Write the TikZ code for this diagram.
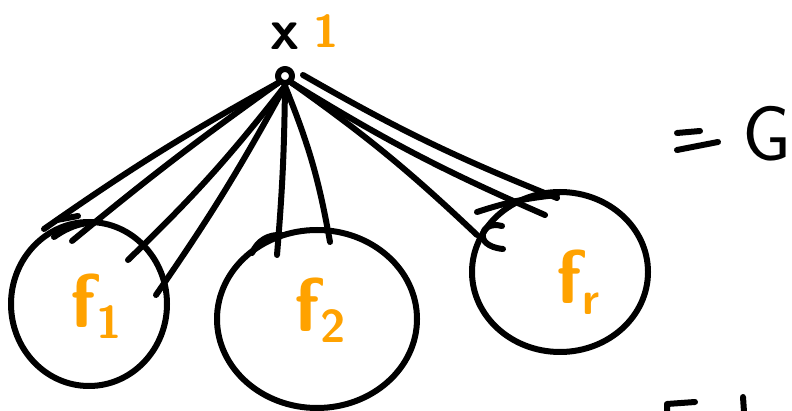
\documentclass[tikz,border=0pt]{standalone}
\usepackage{tikz}
\usetikzlibrary{shapes.geometric, positioning}
\definecolor{hInk}{HTML}{000000}
\definecolor{hOrange}{HTML}{FFA200}
\tikzset{
  pen/.style={draw=hInk, line width=6pt, line cap=round, line join=round},
  blob/.style={pen, ellipse, inner sep=0pt},
  facname/.style={text=hOrange, font=\fontsize{76}{76}\selectfont\sffamily\bfseries},
  inkname/.style={text=hInk, font=\fontsize{58}{58}\selectfont\sffamily\bfseries},
}
\newcommand{\sub}[1]{\raisebox{-0.3ex}{\fontsize{46}{46}\selectfont #1}}
\begin{document}
\begin{tikzpicture}[x=1pt, y=-1pt]
  \useasboundingbox (0,0) rectangle (792,411);
  % the vertex and its label
  \node[pen, circle, minimum size=14pt, inner sep=0pt] (v) at (285,76) {};
  \node[inkname] (x) at (285,36) {x};
  \node[inkname, text=hOrange, font=\fontsize{46}{46}\selectfont\sffamily\bfseries] (one) at (326,31) {1};
  % the three factors
  \node[blob, minimum width=156pt, minimum height=164pt] (f1) at (89,304) {};
  \node[blob, minimum width=200pt, minimum height=178pt] (f2) at (317,319) {};
  \node[blob, minimum width=176pt, minimum height=160pt] (fr) at (560,272) {};
  \node[facname] at (96,306) {f\sub{1}};
  \node[facname] at (320,310) {f\sub{2}};
  \node[facname] at (578,282) {f\sub{r}};
  % ends of the strands
  \coordinate (a1) at (44,229);
  \coordinate (a2) at (72,241);
  \coordinate (a3) at (128,260);
  \coordinate (a4) at (156,295);
  \coordinate (b1) at (277,255);
  \coordinate (b2) at (330,242);
  \coordinate (c1) at (477,235);
  \coordinate (c2) at (545,215);
  \coordinate (c3) at (557,198);
  \coordinate (w) at (303,75);
  % strands from the vertex
  \draw[pen] (v.south west) to[bend right=3] (a1);
  \draw[pen] (v.south west) to[bend right=2] (a2);
  \draw[pen] (v.south) to[bend left=4] (a3);
  \draw[pen] (v.south) to[bend left=3] (a4);
  \draw[pen] (v.south) to[bend left=2] (b1);
  \draw[pen] (v.south) to[bend left=6] (b2);
  \draw[pen] (v.south east) to[bend left=4] (c1);
  \draw[pen] (v.south east) to[bend right=4] (c2);
  \draw[pen] (w) to[bend right=4] (c3);
  % little hooks where the strands meet the factors
  \draw[pen] (57,220) -- (78,216);
  \draw[pen] (54,237) to[bend left=15] (96,222);
  \draw[pen] (252,253) to[bend left=35] (282,235);
  \draw[pen] (477,212) to[bend left=6] (557,195);
  \draw[pen] (502,226) .. controls (480,220) and (472,246) .. (503,249);
  % the equal sign
  \draw[pen] (677,133) -- (700,131);
  \draw[pen] (677,150) -- (718,142);
  \node[inkname, font=\fontsize{78}{78}\selectfont\sffamily] (G) at (767,134) {G};
  % cut off text at the bottom
  \draw[pen] (667,412) -- (667,404) -- (695,402);
  \draw[pen] (743,397) -- (744,412);
\end{tikzpicture}
\end{document}
